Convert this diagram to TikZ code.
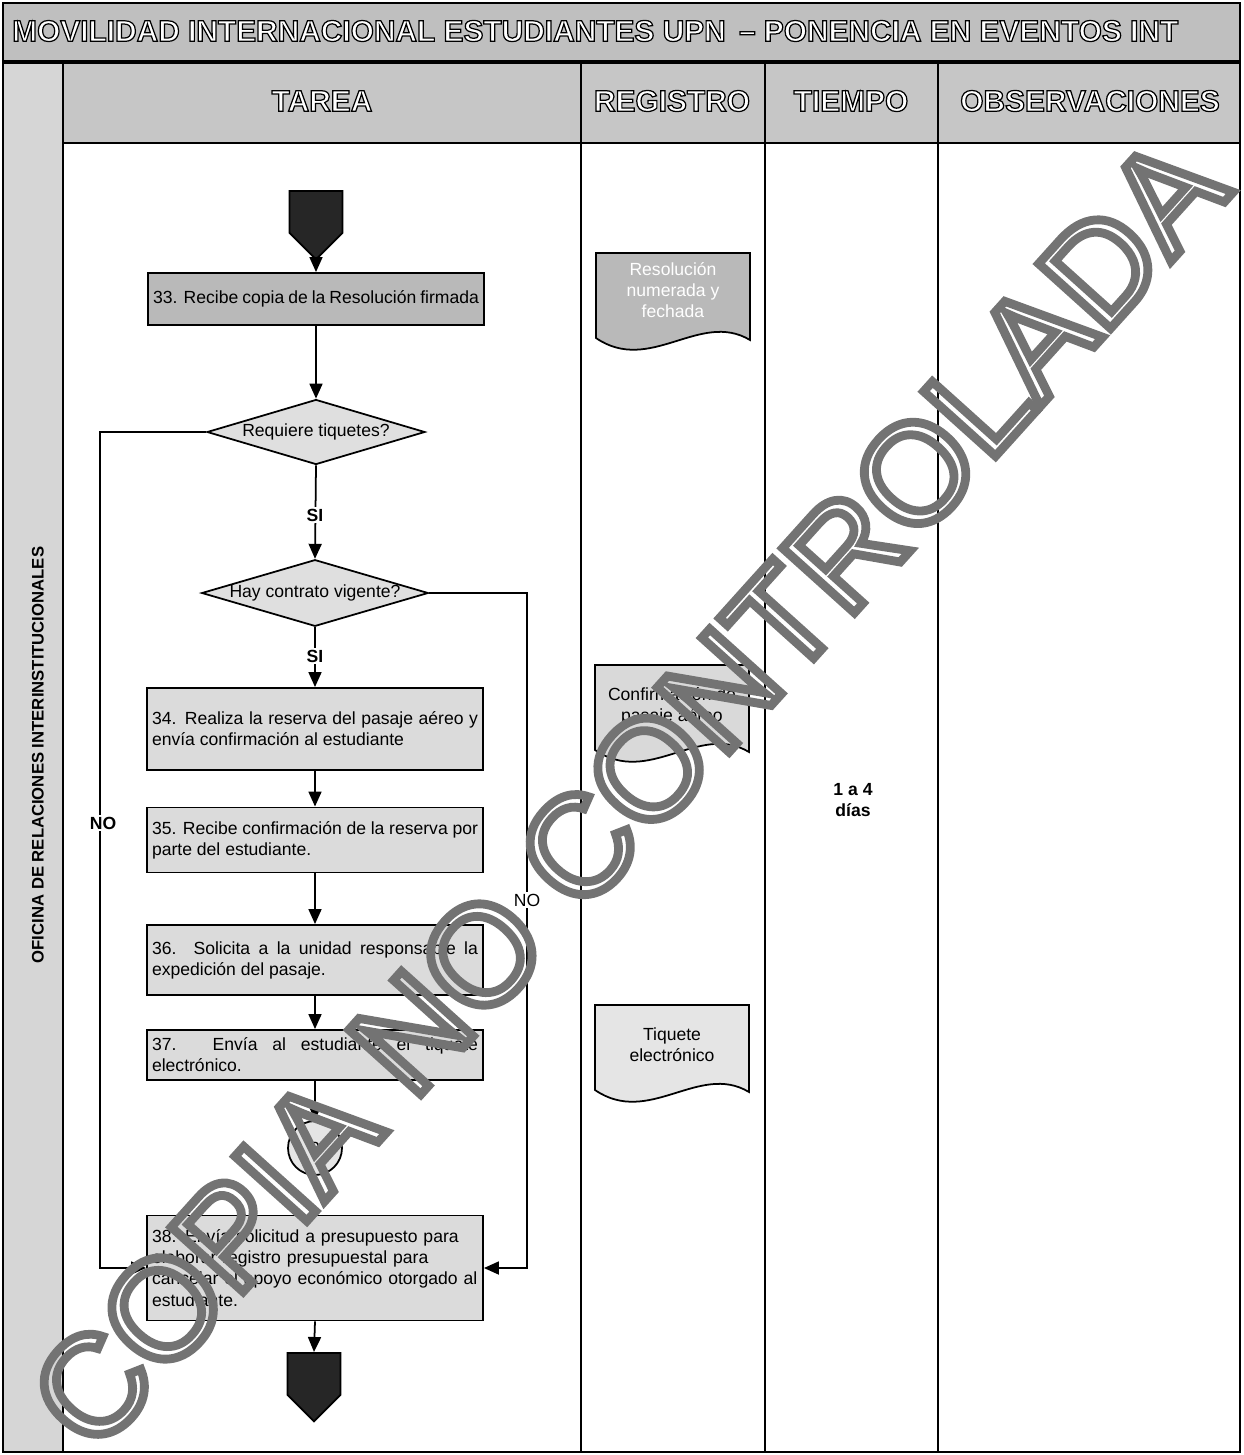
\documentclass[tikz,border=0pt]{standalone}
\usepackage{fontspec}
\setmainfont{Liberation Sans}
\usetikzlibrary{arrows.meta,shapes.geometric,shapes.symbols}

% letras con contorno (relleno blanco, borde negro) y marca de agua hueca
\newcommand{\letrahueca}[1]{\special{pdf:literal 0 G 0.7 w 2 Tr}#1\special{pdf:literal 0 Tr}}
\newcommand{\marcahueca}[1]{\special{pdf:literal 0.45 G 5 w 1 Tr}#1\special{pdf:literal 0 Tr}}

\begin{document}
\begin{tikzpicture}[x=0.02cm, y=-0.02cm,
        tarea/.style={rectangle, draw, line width=1.1pt, fill=gray!28, minimum width=6.72cm, text width=6.52cm, inner sep=0.1cm, align=justify, font=\fontsize{10}{12}\selectfont},
        decision/.style={diamond, aspect=3.4, draw, line width=1pt, fill=gray!25, inner sep=0pt, minimum width=4.36cm, minimum height=1.3cm, font=\fontsize{10}{12}\selectfont},
        salida/.style={signal, signal to=south, signal pointer angle=90, draw, line width=1pt, fill=black!85, minimum width=1.06cm, minimum height=0.84cm, inner sep=0pt},
        conector/.style={circle, draw, line width=1pt, fill=gray!20, minimum size=1.08cm, inner sep=0pt, font=\fontsize{10}{12}\selectfont},
        documento/.style={draw, line width=1pt},
        flecha/.style={-{Triangle[length=0.3cm,width=0.26cm]}, line width=1pt},
        etiqueta/.style={fill=white, inner sep=1pt, font=\bfseries\fontsize{10}{12}\selectfont},
        encabezado/.style={text=white, font=\bfseries\fontsize{17}{20}\selectfont},
        rejilla/.style={line width=1.2pt}
    ]
    \useasboundingbox (0,0) rectangle (1244,1455);

    % franjas grises
    \fill[gray!50] (3,3) rectangle (1240,62);
    \fill[gray!45] (63,62) rectangle (1240,143);
    \fill[gray!32] (3,62) rectangle (63,1452);

    % rejilla
    \draw[line width=1.5pt] (3,3) rectangle (1240,1452);
    \draw[line width=2pt] (3,62) -- (1240,62);
    \draw[rejilla] (63,143) -- (1240,143);
    \draw[rejilla] (63,62) -- (63,1452);
    \draw[rejilla] (581,62) -- (581,1452);
    \draw[rejilla] (765,62) -- (765,1452);
    \draw[rejilla] (938,62) -- (938,1452);

    % titulos
    \node[encabezado, anchor=west] (titulo) at (6,31) {\letrahueca{MOVILIDAD INTERNACIONAL ESTUDIANTES UPN \,– PONENCIA EN EVENTOS INT}};
    \node[encabezado] (hTarea) at (322,101) {\letrahueca{TAREA}};
    \node[encabezado] (hRegistro) at (672,101) {\letrahueca{REGISTRO}};
    \node[encabezado] (hTiempo) at (851,101) {\letrahueca{TIEMPO}};
    \node[encabezado] (hObs) at (1090,101) {\letrahueca{OBSERVACIONES}};
    \node[rotate=90, font=\bfseries\fontsize{9.5}{11}\selectfont] (oficina) at (38,755) {OFICINA DE RELACIONES INTERINSTITUCIONALES};

    % flujo
    \node[salida, anchor=north] (inicio) at (316,190) {};
    \node[tarea, fill=gray!55, minimum height=1.04cm] (t33) at (316,299) {33. Recibe copia de la Resolución firmada};
    \node[decision] (tiq) at (316,432) {Requiere tiquetes?};
    \node[decision] (contrato) at (315,593) {Hay contrato vigente?};
    \node[tarea, minimum height=1.64cm] (t34) at (315,729) {34. Realiza la reserva del pasaje aéreo y\linebreak envía confirmación al estudiante};
    \node[tarea, minimum height=1.3cm] (t35) at (315,840) {35. Recibe confirmación de la reserva por\linebreak parte del estudiante.};
    \node[tarea, minimum height=1.4cm] (t36) at (315,960) {36. Solicita a la unidad responsable la\linebreak expedición del pasaje.};
    \node[tarea, minimum height=1cm] (t37) at (315,1055) {37. Envía al estudiante el tiquete\linebreak electrónico.};
    \node[conector] (dos) at (315,1148) {2};
    \node[tarea, align=left, minimum height=2.1cm] (t38) at (315,1268) {38. Envía solicitud a presupuesto para\\ elaborar registro presupuestal para\\ cancelar el apoyo económico otorgado al\\ estudiante.};
    \node[salida, anchor=north] (fin) at (314,1352) {};

    \coordinate (codoNo) at (100,432);
    \coordinate (codoNo2) at (527,593);

    \draw[flecha] (inicio.south) -- (t33.north);
    \draw[flecha] (t33.south) -- (tiq.north);
    \draw[flecha] (tiq.south) -- (contrato.north);
    \draw[flecha] (contrato.south) -- (t34.north);
    \draw[flecha] (t34.south) -- (t35.north);
    \draw[flecha] (t35.south) -- (t36.north);
    \draw[flecha] (t36.south) -- (t37.north);
    \draw[flecha] (t37.south) -- (dos.north);
    \draw[flecha] (t38.south) -- (fin.north);
    \draw[flecha] (tiq.west) -- (codoNo) |- (t38.west);
    \draw[flecha] (contrato.east) -- (codoNo2) |- (t38.east);

    \node[etiqueta] (si1) at (315,515) {SI};
    \node[etiqueta] (si2) at (315,656) {SI};
    \node[etiqueta] (no1) at (103,823) {NO};
    \node[fill=white, inner sep=1pt, font=\fontsize{10}{12}\selectfont] (no2) at (527,900) {NO};

    % registros
    \draw[documento, fill=gray!55] (596,253) -- (750,253) -- (750,340) .. controls (700,310) and (650,375) .. (596,338) -- cycle;
    \draw[documento, fill=gray!30] (595,665) -- (749,665) -- (749,752) .. controls (699,722) and (649,787) .. (595,750) -- cycle;
    \draw[documento, fill=gray!20] (595,1005) -- (749,1005) -- (749,1092) .. controls (699,1062) and (649,1127) .. (595,1090) -- cycle;
    \node[align=center, text=white, font=\fontsize{10}{12}\selectfont] (regA) at (673,290) {Resolución\\ numerada y\\ fechada};
    \node[align=center, font=\fontsize{10}{12}\selectfont] (regB) at (672,706) {Confirmación de\\ pasaje aéreo};
    \node[align=center, font=\fontsize{10}{12}\selectfont] (regC) at (672,1045) {Tiquete\\ electrónico};

    % tiempo
    \node[align=center, font=\bfseries\fontsize{10}{12}\selectfont] (tiempo) at (853,800) {1 a 4\\ días};

    % marca de agua
    \node[rotate=48, font=\fontsize{80}{90}\selectfont] (marca) at (628,792) {\marcahueca{COPIA NO CONTROLADA}};
\end{tikzpicture}
\end{document}
